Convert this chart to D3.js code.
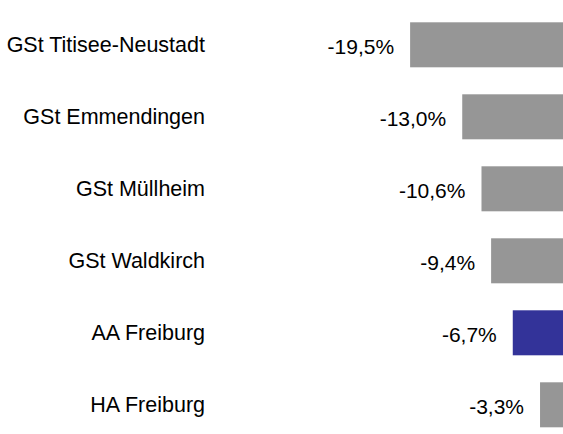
<!DOCTYPE html>
<html>
<head>
<meta charset="utf-8">
<script src="https://cdn.jsdelivr.net/npm/d3@7"></script>
<style>
  html, body { margin: 0; padding: 0; background: #fff; }
  svg { display: block; font-family: "Liberation Sans", Arial, sans-serif; }
</style>
</head>
<body>
<svg id="chart"></svg>
<script>
const categories = ["GSt Titisee-Neustadt", "GSt Emmendingen", "GSt Müllheim", "GSt Waldkirch", "AA Freiburg", "HA Freiburg"];
const values = [-19.5, -13.0, -10.6, -9.4, -6.7, -3.3];
const highlight = ["AA Freiburg"];

const width = 563, height = 434;

const svg = d3.select("#chart")
    .attr("width", width)
    .attr("height", height);

const data = categories.map((c, i) => ({ name: c, value: values[i] }));

// zero line sits just past the right edge
const x = d3.scaleLinear()
    .domain([-20, 0])
    .range([406.1, 566.5]);

const y = d3.scaleBand()
    .domain(categories)
    .range([8.8, 8.8 + 6 * 72])
    .paddingInner(0.375)
    .paddingOuter(0.1875);

const fmt = v => d3.format(".1f")(v).replace("−", "-").replace(".", ",") + "%";

// Bars
svg.selectAll("rect.bar")
  .data(data)
  .join("rect")
    .attr("class", "bar")
    .attr("x", d => x(d.value))
    .attr("y", d => y(d.name))
    .attr("width", d => x(0) - x(d.value))
    .attr("height", y.bandwidth())
    .attr("fill", d => highlight.includes(d.name) ? "#333399" : "#969696");

// Category labels
svg.selectAll("text.cat")
  .data(data)
  .join("text")
    .attr("class", "cat")
    .attr("x", 205)
    .attr("y", d => y(d.name) + y.bandwidth() / 2)
    .attr("dy", "0.35em")
    .attr("text-anchor", "end")
    .style("font-size", "21.5px")
    .attr("fill", "#000")
    .text(d => d.name);

// Value labels
svg.selectAll("text.val")
  .data(data)
  .join("text")
    .attr("class", "val")
    .attr("x", d => x(d.value) - 16)
    .attr("y", d => y(d.name) + y.bandwidth() / 2 + 2)
    .attr("dy", "0.35em")
    .attr("text-anchor", "end")
    .style("font-size", "21px")
    .attr("fill", "#000")
    .text(d => fmt(d.value));
</script>
</body>
</html>
